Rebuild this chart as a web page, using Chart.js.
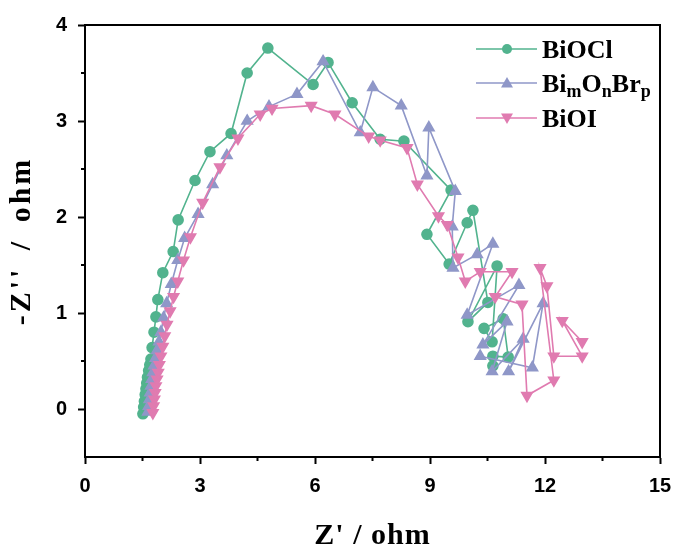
<!DOCTYPE html>
<html><head><meta charset="utf-8">
<script src="https://cdn.jsdelivr.net/npm/chart.js@4/dist/chart.umd.min.js"></script>
<style>html,body{margin:0;padding:0;background:#fff}#wrap{width:678px;height:552px}</style>
</head><body><div id="wrap"><canvas id="c" width="678" height="552"></canvas></div>
<script>
// ---- data (Z' , -Z'') ----
const bioclX = [1.51,1.53,1.55,1.57,1.59,1.61,1.63,1.66,1.69,1.72,1.75,1.80,1.85,1.90,2.03,2.30,2.43,2.87,3.26,3.81,4.23,4.77,5.95,6.34,6.97,7.70,8.32,9.55,8.92,9.50,9.97,10.12,10.51,9.99,10.75,10.62,10.41,10.91,11.04,10.64,10.64];
const bioclY = [-0.05,0.02,0.08,0.15,0.21,0.27,0.33,0.40,0.46,0.52,0.64,0.80,0.96,1.14,1.42,1.64,1.97,2.38,2.68,2.87,3.50,3.76,3.38,3.61,3.19,2.81,2.79,2.28,1.82,1.51,1.94,2.07,1.11,0.91,1.49,0.70,0.84,0.94,0.54,0.55,0.45];

const bimonbrpX = [1.64,1.66,1.68,1.70,1.72,1.74,1.77,1.80,1.84,1.88,1.93,1.98,2.05,2.13,2.25,2.42,2.60,2.95,3.33,3.70,4.23,4.80,5.53,6.21,7.18,7.51,8.25,8.92,8.97,9.66,9.58,9.60,10.23,10.64,9.97,11.32,10.38,11.01,10.62,11.43,11.05,11.95,11.67,10.31];
const bimonbrpY = [-0.03,0.03,0.10,0.17,0.24,0.31,0.38,0.45,0.53,0.61,0.70,0.80,0.95,1.10,1.30,1.55,1.78,2.03,2.34,2.64,3.00,3.15,3.28,3.62,2.88,3.35,3.16,2.43,2.93,2.27,1.90,1.47,1.61,1.72,0.98,1.29,0.67,0.91,0.39,0.73,0.39,1.10,0.43,0.55];

const bioiX = [1.77,1.79,1.81,1.83,1.85,1.88,1.91,1.94,1.98,2.03,2.08,2.14,2.22,2.31,2.42,2.57,2.75,3.07,3.52,3.99,4.57,4.88,5.90,6.52,7.40,7.70,8.40,8.67,9.22,9.45,9.73,9.92,10.31,11.14,10.70,11.40,11.53,12.23,11.87,12.05,12.23,12.97,12.45,12.97];
const bioiY = [-0.04,0.03,0.10,0.17,0.24,0.31,0.38,0.46,0.55,0.65,0.76,0.88,1.02,1.17,1.33,1.55,1.79,2.15,2.52,2.82,3.07,3.13,3.16,3.07,2.84,2.80,2.72,2.34,2.01,1.92,1.58,1.33,1.43,1.43,1.17,1.09,0.14,0.30,1.47,1.28,0.55,0.55,0.92,0.70];

const xTicks = [0,3,6,9,12,15];
const yTicks = [0,1,2,3,4];
const xMinor = [1.5,4.5,7.5,10.5,13.5];
const yMinor = [0.5,1.5,2.5,3.5];
const xTitle = "Z' / ohm";
const yTitle = "-Z'' / ohm";

const colGreen = '#52b38e', colPurple = '#8f97c8', colPink = '#e07bb0';

function pts(xs, ys){ return xs.map((v,i)=>({x:v,y:ys[i]})); }

const legendItems = [
  {parts:[['BiOCl',0]], color:colGreen, style:'circle'},
  {parts:[['Bi',0],['m',1],['O',0],['n',1],['Br',0],['p',1]], color:colPurple, style:'up'},
  {parts:[['BiOI',0]], color:colPink, style:'down'}
];

function marker(ctx, style, x, y, color){
  ctx.fillStyle = color;
  ctx.beginPath();
  if (style==='circle'){ ctx.arc(x,y,5,0,Math.PI*2); }
  else if (style==='up'){ ctx.moveTo(x,y-6); ctx.lineTo(x+6,y+4.5); ctx.lineTo(x-6,y+4.5); ctx.closePath(); }
  else { ctx.moveTo(x,y+6); ctx.lineTo(x+6,y-4.5); ctx.lineTo(x-6,y-4.5); ctx.closePath(); }
  ctx.fill();
}

const framePlugin = {
  id:'frame',
  afterDraw(chart){
    const {ctx, chartArea:a, scales:{x,y}} = chart;
    ctx.save();
    ctx.strokeStyle='#000'; ctx.lineWidth=2;
    ctx.beginPath(); ctx.moveTo(a.left-1,a.top); ctx.lineTo(a.right,a.top); ctx.lineTo(a.right,a.bottom); ctx.stroke();
    // minor ticks
    ctx.beginPath();
    xMinor.forEach(v=>{const p=x.getPixelForValue(v); ctx.moveTo(p,a.bottom); ctx.lineTo(p,a.bottom+4);});
    yMinor.forEach(v=>{const p=y.getPixelForValue(v); ctx.moveTo(a.left,p); ctx.lineTo(a.left-4,p);});
    ctx.stroke();
    // axis titles
    ctx.fillStyle='#000';
    ctx.font='bold 30px "Liberation Serif"';
    ctx.textAlign='center'; ctx.textBaseline='middle';
    try{ ctx.letterSpacing='1px'; }catch(e){}
    ctx.fillText(xTitle, (a.left+a.right)/2, 536);
    ctx.save();
    ctx.translate(22, 241); ctx.rotate(-Math.PI/2);
    try{ ctx.letterSpacing='3px'; ctx.wordSpacing='6px'; }catch(e){}
    ctx.fillText(yTitle, 0, 0);
    ctx.restore();
    try{ ctx.letterSpacing='0px'; ctx.wordSpacing='0px'; }catch(e){}
    // legend
    const rows=[49,83,118];
    legendItems.forEach((it,i)=>{
      const ry=rows[i];
      ctx.strokeStyle=it.color; ctx.lineWidth=1.5;
      ctx.beginPath(); ctx.moveTo(476,ry); ctx.lineTo(537,ry); ctx.stroke();
      marker(ctx,it.style,507,ry,it.color);
      let tx=542;
      ctx.fillStyle='#000'; ctx.textBaseline='alphabetic'; ctx.textAlign='left';
      it.parts.forEach(([t,sub])=>{
        ctx.font = sub ? 'bold 18px "Liberation Serif"' : 'bold 26px "Liberation Serif"';
        ctx.fillText(t, tx, ry+9 + (sub?5:0));
        tx += ctx.measureText(t).width;
      });
    });
    ctx.restore();
  }
};

const tickFont = {family:'"Liberation Sans"', size:20, weight:'bold'};

new Chart(document.getElementById('c'), {
  type:'scatter',
  data:{datasets:[
    {label:'BiOCl', data:pts(bioclX,bioclY), showLine:true, borderColor:colGreen, backgroundColor:colGreen, pointStyle:'circle', pointRadius:5, borderWidth:1.6, order:3},
    {label:'BimOnBrp', data:pts(bimonbrpX,bimonbrpY), showLine:true, borderColor:colPurple, backgroundColor:colPurple, pointStyle:'triangle', pointRadius:6, borderWidth:1.6, order:2},
    {label:'BiOI', data:pts(bioiX,bioiY), showLine:true, borderColor:colPink, backgroundColor:colPink, pointStyle:'triangle', rotation:180, pointRadius:6, borderWidth:1.6, order:1}
  ]},
  options:{
    responsive:false, animation:false,
    layout:{padding:{top:25,right:18,left:0,bottom:0}},
    plugins:{legend:{display:false}, tooltip:{enabled:false}},
    elements:{point:{borderWidth:0}},
    scales:{
      x:{type:'linear', min:0, max:15,
        afterBuildTicks:s=>{s.ticks=xTicks.map(v=>({value:v}));},
        afterFit:s=>{s.height=95; s.paddingLeft=0; s.paddingRight=0;},
        grid:{drawOnChartArea:false, drawTicks:true, tickLength:7, tickWidth:2, tickColor:'#000', color:'#000'},
        border:{display:true, color:'#000', width:2},
        ticks:{font:tickFont, color:'#000', padding:10, maxRotation:0},
        title:{display:false}
      },
      y:{type:'linear', min:-0.5, max:4,
        afterBuildTicks:s=>{s.ticks=yTicks.map(v=>({value:v}));},
        afterFit:s=>{s.width=85; s.paddingTop=0; s.paddingBottom=0;},
        grid:{drawOnChartArea:false, drawTicks:true, tickLength:7, tickWidth:2, tickColor:'#000', color:'#000'},
        border:{display:true, color:'#000', width:2},
        ticks:{font:tickFont, color:'#000', padding:11},
        title:{display:false}
      }
    }
  },
  plugins:[framePlugin]
});
</script></body></html>
